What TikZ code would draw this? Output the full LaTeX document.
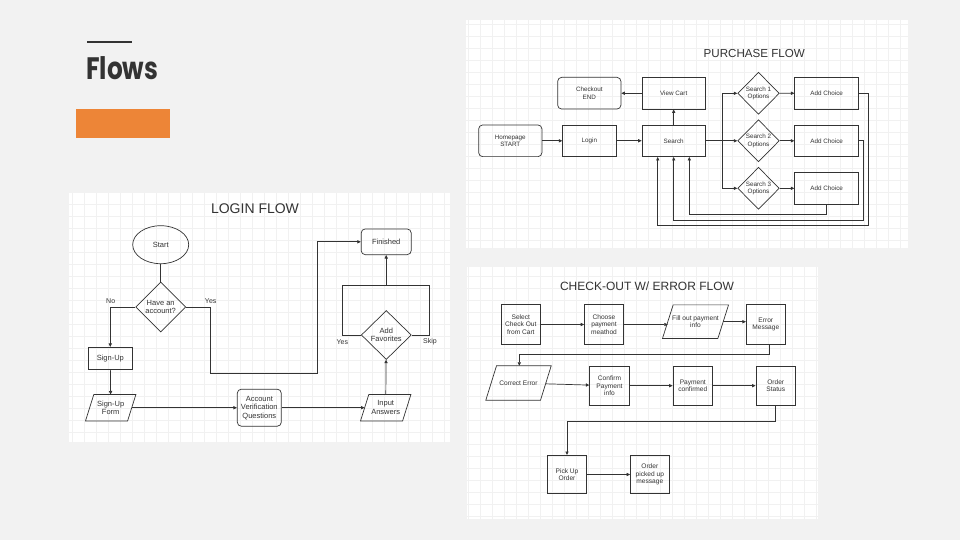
\documentclass[tikz,border=0pt]{standalone}
\usepackage{fontspec}
\setmainfont{Liberation Sans}
\newfontfamily\pop{Poppins}
\usetikzlibrary{arrows.meta,shapes.geometric}
\definecolor{slidebg}{HTML}{F2F2F2}
\definecolor{ink}{HTML}{333333}
\definecolor{orng}{HTML}{ED8537}
\definecolor{gridc}{HTML}{F1F1F1}
\newcommand{\parashape}[2]{\draw[ln] ([xshift=-#2]#1.south west) -- ([xshift=#2]#1.north west) -- ([xshift=#2]#1.north east) -- ([xshift=-#2]#1.south east) -- cycle;}
\begin{document}
\begin{tikzpicture}[x=1pt,y=-1pt,
  box/.style={draw=ink, line width=0.7pt, text=ink, align=center, inner sep=0pt},
  rbox/.style={box, rounded corners=4pt},
  dia/.style={box, diamond, aspect=1},
  para/.style={text=ink, align=center, inner sep=0pt},
  arr/.style={draw=ink, line width=0.7pt, -{Triangle[length=3.5pt,width=3.2pt]}},
  ln/.style={draw=ink, line width=0.7pt},
  lf/.style={font=\fontsize{7.5}{8.5}\selectfont},
  pf/.style={font=\fontsize{6.3}{7.3}\selectfont},
  cf/.style={font=\fontsize{6.6}{7.7}\selectfont},
  lbl/.style={text=ink, font=\fontsize{7}{8}\selectfont, inner sep=0pt},
  ttl/.style={text=ink, inner sep=0pt},
  panel/.style={fill=white},
]
\useasboundingbox (0,0) rectangle (960,540);
\fill[slidebg] (0,0) rectangle (960,540);

% heading
\draw[ink, line width=2pt] (87,42) -- (132,42);
\node[anchor=base west, inner sep=0pt, text=ink, font=\pop\bfseries\fontsize{31}{31}\selectfont, xscale=0.8] (flows) at (86,80) {Flows};
\fill[orng] (76,109) rectangle (170,138);

% panels
\fill[panel] (69,193) rectangle (450,442);
\fill[panel] (466,20) rectangle (908,248);
\fill[panel] (467,267) rectangle (818,519);
\begin{scope}
  \clip (69,193) rectangle (450,442);
  \draw[gridc, line width=0.4pt, step=12pt] (69,193) grid (450,442);
\end{scope}
\begin{scope}
  \clip (466,20) rectangle (908,248);
  \draw[gridc, line width=0.4pt, step=12pt] (466,20) grid (908,248);
\end{scope}
\begin{scope}
  \clip (467,267) rectangle (818,519);
  \draw[gridc, line width=0.4pt, step=12pt] (467,267) grid (818,519);
\end{scope}

% ================= LOGIN FLOW =================
\node[ttl, font=\fontsize{14}{14}\selectfont] (t1) at (255,209) {LOGIN FLOW};
\node[box, ellipse, lf, minimum width=56pt, minimum height=38pt] (start) at (160.7,244.7) {Start};
\node[dia, lf, minimum width=50pt, minimum height=50pt] (have) at (160.7,307) {Have an\\account?};
\node[box, lf, minimum width=44pt, minimum height=22.4pt] (signup) at (110.3,358.5) {Sign-Up};
\node[para, lf, minimum width=41.7pt, minimum height=26pt] (suf) at (110.7,407.7) {Sign-Up\\Form};
\parashape{suf}{4.15pt}
\node[rbox, lf, minimum width=44pt, minimum height=37pt] (acc) at (259.3,407.7) {Account\\Verification\\Questions};
\node[para, lf, minimum width=41.7pt, minimum height=26pt] (inp) at (385.7,407.7) {Input\\Answers};
\parashape{inp}{4.15pt}
\node[dia, lf, minimum width=50pt, minimum height=49pt] (fav) at (386.3,335) {Add\\Favorites};
\node[rbox, lf, minimum width=50pt, minimum height=25.7pt] (fin) at (386.2,241.8) {Finished};

\node[lbl] (lno) at (110.7,301.3) {No};
\node[lbl] (lyes) at (210.7,301.3) {Yes};
\node[lbl] (lyes2) at (342.3,342) {Yes};
\node[lbl] (lskip) at (430,342) {Skip};

\draw[ln] (start) -- (have);
\draw[arr] (have.west) -| (signup.north);
\coordinate (y1) at (210.7,373);
\coordinate (y2) at (317.3,373);
\draw[arr] (have.east) -| (y1) -- (y2) |- (fin.west);
\draw[arr] (signup) -- (suf);
\draw[arr] (suf) -- (acc);
\draw[arr] (acc) -- (inp);
\draw[arr] (inp) -- (fav);
\coordinate (f1) at (342.3,285.7);
\coordinate (f2) at (429.7,285.7);
\draw[ln] (fav.west) -| (f1) -- (f2) |- (fav.east);
\coordinate (f3) at (386.2,285.7);
\draw[arr] (f3) -- (fin.south);

% ================= PURCHASE FLOW =================
\node[ttl, font=\fontsize{11.6}{11.6}\selectfont] (t2) at (754.3,53.3) {PURCHASE FLOW};
\node[rbox, pf, minimum width=63.3pt, minimum height=31.7pt] (co) at (589.3,93.2) {Checkout\\END};
\node[box, pf, minimum width=63.3pt, minimum height=31.7pt] (vc) at (673.7,93.2) {View Cart};
\node[rbox, pf, minimum width=63.3pt, minimum height=31.7pt] (hp) at (510.3,140.8) {Homepage\\START};
\node[box, pf, minimum width=53.3pt, minimum height=31.7pt] (lg) at (589.3,140.8) {Login};
\node[box, pf, minimum width=63.3pt, minimum height=31.7pt] (se) at (673.7,140.8) {Search};
\node[dia, pf, minimum width=41.6pt, minimum height=42pt] (s1) at (758.5,93.3) {Search 1\\Options};
\node[dia, pf, minimum width=41.6pt, minimum height=42pt] (s2) at (758.5,140.8) {Search 2\\Options};
\node[dia, pf, minimum width=41.6pt, minimum height=42pt] (s3) at (758.5,188.3) {Search 3\\Options};
\node[box, pf, minimum width=64pt, minimum height=31.7pt] (a1) at (826.7,93.2) {Add Choice};
\node[box, pf, minimum width=64pt, minimum height=31.7pt] (a2) at (826.7,140.8) {Add Choice};
\node[box, pf, minimum width=64pt, minimum height=31.7pt] (a3) at (826.7,188.3) {Add Choice};

\draw[arr] (vc) -- (co);
\draw[arr] (hp) -- (lg);
\draw[arr] (lg) -- (se);
\draw[arr] (se) -- (vc);
\coordinate (br) at (722,140.8);
\draw[ln] (se.east) -- (br);
\draw[arr] (br) |- (s1);
\draw[arr] (br) -- (s2);
\draw[arr] (br) |- (s3);
\draw[arr] (s1) -- (a1);
\draw[arr] (s2) -- (a2);
\draw[arr] (s3) -- (a3);
\coordinate (r1) at (868.7,225);
\coordinate (r2) at (863.7,220);
\coordinate (r3) at (826.7,214.3);
\draw[arr] (a1.east) -| (r1) -| ([xshift=-16pt]se.south);
\draw[arr] (a2.east) -| (r2) -| (se.south);
\draw[arr] (a3.south) -- (r3) -| ([xshift=15.6pt]se.south);

% ================= CHECK-OUT FLOW =================
\node[ttl, font=\fontsize{12}{12}\selectfont] (t3) at (647,286) {CHECK-OUT W/ ERROR FLOW};
\node[box, cf, minimum width=39pt, minimum height=39.7pt] (sel) at (520.8,324.5) {Select\\Check Out\\from Cart};
\node[box, cf, minimum width=39pt, minimum height=39.7pt] (cho) at (604,324.5) {Choose\\payment\\meathod};
\node[para, cf, minimum width=55pt, minimum height=33.3pt] (fil) at (695.5,321.7) {Fill out payment\\info};
\parashape{fil}{5.35pt}
\node[box, cf, minimum width=39pt, minimum height=39.7pt] (err) at (765.8,324.5) {Error\\Message};
\node[para, cf, minimum width=54.3pt, minimum height=34pt] (cor) at (518.5,383) {Correct Error};
\parashape{cor}{5.35pt}
\node[box, cf, minimum width=39.6pt, minimum height=39.3pt] (cp) at (609.5,385.7) {Confirm\\Payment\\info};
\node[box, cf, minimum width=39.6pt, minimum height=39.3pt] (pc) at (692.8,385.7) {Payment\\confirmed};
\node[box, cf, minimum width=39.6pt, minimum height=39.3pt] (os) at (775.7,385.7) {Order\\Status};
\node[box, cf, minimum width=38.7pt, minimum height=38.3pt] (pu) at (567,474.5) {Pick Up\\Order};
\node[box, cf, minimum width=38.7pt, minimum height=38.3pt] (opm) at (649.8,474.5) {Order\\picked up\\message};

\draw[arr] (sel) -- (cho);
\draw[arr] (cho.east) -- (cho.east -| fil.west);
\draw[arr] (fil.east) -- (fil.east -| err.west);
\coordinate (e1) at (519.3,354.3);
\draw[arr] ([xshift=3.9pt]err.south) |- (e1) -- (e1 |- cor.north);
\draw[arr] (cor) -- (cp);
\draw[arr] (cp) -- (pc);
\draw[arr] (pc) -- (os);
\coordinate (o1) at (567,421.3);
\draw[arr] (os.south) |- (o1) -- (pu.north);
\draw[arr] (pu) -- (opm);
\end{tikzpicture}
\end{document}
